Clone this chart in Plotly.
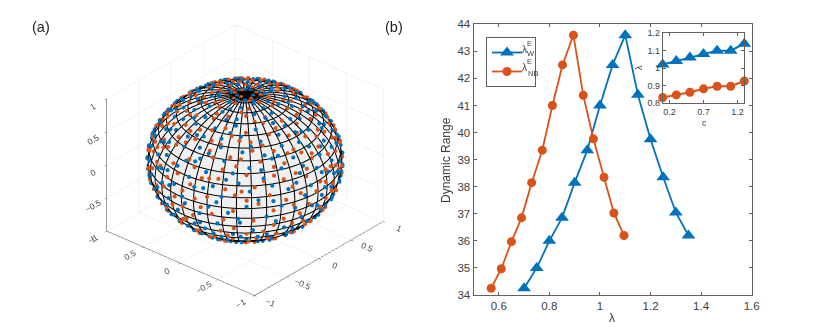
import numpy as np
import plotly.graph_objects as go

# the page body has an 8px margin, so px positions below are window positions minus 8
W, H = 822, 324
BLUE = "#0072BD"
ORANGE = "#D95319"
AXIS = "#606060"
TEXT = "#404040"


def fx(p):
    return (p - 8) / W


def fy(p):
    return 1 - (p - 8) / H


# main panel
wide_x = [0.70, 0.75, 0.80, 0.85, 0.90, 0.95, 1.00, 1.05, 1.10, 1.15, 1.20, 1.25, 1.30, 1.35]
wide_y = [34.25, 35.0, 36.0, 36.85, 38.15, 39.35, 41.0, 42.5, 43.6, 41.4, 39.75, 38.35, 37.05, 36.2]
narrow_x = [0.57, 0.61, 0.65, 0.69, 0.73, 0.772, 0.812, 0.852, 0.895, 0.934, 0.974, 1.016, 1.055, 1.095]
narrow_y = [34.25, 34.97, 35.97, 36.85, 38.15, 39.35, 41.0, 42.5, 43.6, 41.38, 39.77, 38.35, 37.03, 36.2]

# inset
c_vals = [0.1, 0.3, 0.5, 0.7, 0.9, 1.1, 1.3]
wide_c = [1.02, 1.04, 1.06, 1.08, 1.10, 1.10, 1.14]
narrow_c = [0.83, 0.845, 0.86, 0.88, 0.895, 0.895, 0.925]

# sphere mesh, degrees
mesh_lon = list(range(0, 361, 9))
mesh_lat = list(range(-90, 91, 9))
cap_lat = [84, 86, 88]

# dots on the sphere, (lon, lat) in degrees, estimated by eye from the visible side
blue_pts = [
    (192, -62), (214, -66), (236, -60), (251, -64), (205, -58), (173, -60), (268, -57), (226, -70), (183, -54), (245, -52),
    (158, -50), (171, -47), (196, -49), (218, -51), (232, -46), (259, -48), (278, -50), (290, -44), (149, -43), (207, -42),
    (186, -40), (163, -38), (241, -40), (270, -39), (298, -37), (222, -37), (143, -36), (252, -34), (177, -33), (283, -32),
    (136, -30), (155, -29), (199, -31), (213, -28), (236, -30), (266, -27), (305, -29), (128, -24), (146, -22), (168, -25),
    (187, -23), (226, -22), (247, -24), (277, -21), (294, -23), (312, -20), (121, -17), (138, -15), (159, -18), (176, -14),
    (204, -16), (218, -13), (258, -17), (270, -12), (288, -15), (303, -13), (318, -16), (126, -8), (143, -6), (152, -10),
    (169, -7), (193, -9), (211, -4), (234, -8), (252, -5), (265, -9), (283, -3), (297, -7), (311, -5), (322, -9),
    (119, -1), (131, 2), (148, 0), (163, 3), (181, 1), (199, -1), (222, 2), (243, 0), (259, 3), (276, 1),
    (292, 4), (306, 0), (316, 3), (328, 1), (115, 8), (127, 10), (141, 7), (156, 11), (174, 8), (189, 12),
    (207, 9), (229, 7), (248, 12), (264, 9), (281, 11), (299, 8), (313, 12), (326, 7), (333, 11), (108, 15),
    (122, 18), (136, 16), (151, 19), (166, 15), (184, 18), (201, 16), (217, 20), (238, 17), (254, 15), (272, 19),
    (288, 16), (304, 20), (319, 15), (335, 18), (102, 24), (117, 26), (133, 23), (146, 27), (160, 24), (178, 28),
    (195, 25), (213, 27), (233, 23), (246, 28), (262, 25), (279, 26), (295, 23), (311, 27), (327, 24), (341, 26),
    (96, 32), (111, 34), (126, 31), (141, 35), (155, 32), (171, 36), (188, 33), (206, 35), (224, 31), (241, 36),
    (257, 33), (274, 35), (291, 31), (307, 36), (322, 33), (338, 35), (350, 31), (88, 41), (104, 43), (120, 40),
    (135, 44), (152, 41), (168, 43), (184, 40), (201, 44), (219, 42), (236, 39), (252, 43), (268, 41), (285, 44),
    (302, 40), (318, 43), (333, 41), (349, 44), (2, 40), (76, 49), (93, 52), (112, 48), (129, 51), (147, 49),
    (165, 53), (182, 48), (199, 50), (217, 53), (235, 49), (254, 51), (271, 48), (289, 53), (308, 50), (326, 48),
    (343, 52), (358, 49), (14, 51), (60, 58), (82, 60), (101, 57), (123, 61), (144, 58), (167, 60), (188, 56),
    (210, 61), (233, 58), (256, 60), (279, 57), (302, 61), (324, 58), (347, 60), (8, 57), (31, 61), (45, 67),
    (72, 69), (98, 66), (126, 70), (153, 67), (181, 69), (209, 66), (237, 70), (265, 67), (293, 69), (321, 66),
    (349, 70), (17, 68), (58, 76), (96, 78), (134, 75), (172, 78), (210, 76), (248, 79), (286, 75), (324, 78),
    (2, 76), (30, 79), (78, 84), (150, 85), (222, 83), (294, 85), (10, 84),
    (133, -41), (125, -33), (117, -12), (112, -4), (109, 3), (103, 10), (97, 19), (90, 28), (82, 37), (70, 45),
    (330, -14), (323, -24), (315, -33), (305, -42), (294, -52), (279, -59), (337, -4), (341, 5), (346, 14), (350, 22),
    (357, 36), (9, 45), (22, 53), (165, -57), (150, -56), (262, -67), (205, -72), (243, -72),
    # second pass, between the rows above and heavier towards the rim
    (178, -65), (199, -69), (218, -74), (233, -65), (256, -70), (275, -62), (189, -51), (212, -55), (240, -56), (264, -52),
    (146, -53), (136, -46), (129, -38), (123, -29), (116, -21), (110, -10), (107, -2), (102, 6), (96, 14), (91, 22),
    (86, 31), (78, 41), (65, 52), (52, 60), (36, 72), (333, -25), (326, -36), (316, -45), (303, -55), (287, -60),
    (338, -11), (344, -2), (347, 8), (352, 17), (356, 26), (3, 33), (12, 41), (20, 48), (28, 56), (156, -34),
    (182, -37), (204, -35), (230, -33), (261, -42), (286, -38), (141, -27), (194, -26), (218, -32), (255, -30), (302, -24),
    (133, -12), (165, -16), (192, -19), (240, -14), (281, -19), (309, -12), (137, -3), (157, -5), (183, -4), (217, -9),
    (273, -4), (301, -2), (134, 5), (170, 5), (204, 4), (238, 5), (287, 6), (118, 13), (160, 13), (195, 13),
    (224, 14), (275, 14), (128, 21), (173, 22), (209, 22), (258, 21), (315, 20), (113, 29), (150, 29), (185, 30),
    (232, 29), (284, 30), (346, 29), (105, 37), (146, 38), (193, 38), (246, 37), (300, 37), (124, 45), (175, 47),
    (226, 46), (277, 46), (330, 46), (110, 54), (156, 55), (206, 55), (266, 55), (312, 54), (85, 64), (136, 64),
    (195, 64), (251, 65), (306, 64), (10, 63), (70, 73), (122, 74), (190, 73), (260, 73), (335, 73), (40, 84),
    (115, 82), (185, 82), (255, 81), (335, 81), (60, 50), (46, 56), (5, 52), (350, 54), (340, 38), (335, 29),
    (330, 13), (324, -3), (316, -25), (308, -35), (120, -7), (114, 15), (106, 25), (99, 35), (94, 45), (84, 54),
]
orange_pts = [
    (199, -64), (221, -62), (243, -66), (184, -61), (258, -60), (210, -70), (231, -56), (168, -54), (195, -55), (274, -54),
    (153, -47), (179, -46), (205, -48), (224, -44), (248, -47), (265, -44), (286, -48), (296, -41), (142, -40), (192, -43),
    (168, -36), (212, -37), (229, -35), (257, -38), (276, -35), (303, -33), (135, -33), (188, -32), (243, -31), (291, -29),
    (126, -27), (150, -26), (173, -28), (205, -25), (222, -27), (261, -23), (283, -26), (311, -27), (118, -20), (134, -18),
    (162, -21), (182, -19), (214, -20), (239, -18), (252, -21), (274, -16), (299, -18), (320, -22), (113, -11), (130, -12),
    (148, -13), (172, -11), (188, -13), (201, -7), (226, -11), (245, -13), (262, -6), (278, -10), (292, -12), (308, -9),
    (325, -12), (124, -3), (139, -1), (156, -4), (175, -2), (190, 3), (214, -2), (229, 4), (251, -2), (268, 2),
    (285, -1), (302, 2), (319, -2), (331, 3), (112, 5), (123, 6), (136, 12), (149, 6), (167, 10), (181, 6),
    (198, 7), (215, 11), (236, 10), (256, 6), (272, 8), (291, 10), (307, 6), (321, 10), (337, 8), (106, 13),
    (118, 14), (130, 20), (144, 17), (158, 14), (175, 17), (193, 20), (209, 15), (227, 17), (246, 20), (262, 17),
    (279, 14), (297, 18), (312, 15), (328, 19), (343, 16), (100, 21), (111, 22), (125, 27), (139, 22), (153, 26),
    (169, 22), (186, 26), (204, 22), (222, 26), (240, 24), (255, 22), (271, 27), (287, 22), (303, 26), (319, 22),
    (334, 27), (347, 23), (92, 30), (105, 29), (119, 36), (132, 32), (148, 30), (163, 34), (180, 30), (197, 36),
    (215, 32), (232, 35), (249, 31), (265, 34), (282, 31), (299, 34), (315, 31), (330, 36), (345, 33), (357, 29),
    (84, 38), (98, 39), (113, 41), (127, 38), (144, 42), (160, 39), (176, 44), (193, 40), (210, 38), (227, 43),
    (244, 41), (260, 38), (277, 42), (294, 39), (310, 44), (326, 39), (341, 43), (356, 41), (68, 47), (86, 46),
    (103, 50), (120, 47), (138, 53), (156, 48), (174, 51), (191, 47), (208, 53), (226, 49), (245, 53), (263, 48),
    (280, 52), (299, 47), (317, 52), (335, 49), (352, 53), (6, 47), (23, 50), (52, 56), (72, 59), (92, 62),
    (112, 58), (134, 62), (155, 57), (178, 62), (199, 58), (222, 56), (244, 62), (268, 59), (291, 56), (313, 62),
    (336, 57), (358, 62), (20, 58), (38, 64), (60, 68), (85, 66), (112, 69), (140, 66), (167, 71), (195, 67),
    (223, 69), (251, 66), (279, 71), (307, 67), (335, 69), (3, 66), (28, 70), (40, 77), (77, 75), (115, 78),
    (153, 75), (191, 79), (229, 75), (267, 78), (305, 76), (343, 79), (14, 74), (60, 85), (114, 84), (186, 86),
    (258, 84), (330, 83), (127, -47), (139, -51), (121, -38), (114, -26), (108, -14), (105, -6), (100, 5), (94, 14),
    (86, 24), (78, 33), (64, 40), (334, -20), (327, -30), (318, -38), (308, -47), (300, -57), (285, -62), (340, -8),
    (344, 1), (349, 11), (353, 19), (0, 27), (8, 36), (16, 43), (30, 48), (160, -62), (176, -67), (270, -65),
    # second pass, between the rows above and heavier towards the rim
    (188, -68), (206, -64), (228, -68), (249, -72), (266, -68), (284, -55), (176, -50), (201, -53), (222, -56), (252, -56),
    (143, -48), (132, -42), (124, -35), (118, -25), (111, -17), (104, -11), (101, -1), (97, 9), (92, 18), (87, 26),
    (80, 36), (72, 43), (58, 49), (44, 58), (30, 66), (336, -16), (329, -27), (320, -43), (311, -52), (296, -60),
    (342, -5), (346, 6), (350, 15), (354, 24), (359, 33), (6, 42), (14, 49), (26, 55), (160, -43), (184, -35),
    (198, -38), (238, -39), (268, -33), (293, -36), (152, -33), (178, -23), (209, -31), (233, -25), (270, -30), (298, -24),
    (142, -9), (158, -9), (181, -8), (208, -11), (238, -3), (256, -12), (284, -7), (314, -14), (129, 0), (144, 3),
    (165, 1), (194, -3), (222, 7), (246, 4), (277, 5), (295, 4), (324, 5), (131, 9), (153, 14), (186, 13),
    (219, 14), (251, 13), (285, 13), (116, 20), (146, 22), (198, 21), (233, 21), (264, 22), (308, 22), (338, 21),
    (125, 33), (157, 29), (206, 29), (241, 30), (273, 30), (324, 30), (108, 36), (137, 38), (170, 39), (218, 37),
    (254, 37), (287, 37), (336, 39), (96, 47), (130, 46), (166, 47), (200, 46), (236, 46), (272, 47), (326, 46),
    (124, 55), (148, 54), (186, 54), (216, 50), (255, 56), (303, 55), (344, 56), (75, 65), (124, 65), (176, 66),
    (234, 64), (292, 63), (350, 65), (52, 72), (102, 73), (150, 71), (214, 72), (294, 72), (15, 80), (90, 81),
    (165, 82), (240, 82), (310, 81), (48, 52), (38, 55), (2, 57), (354, 46), (342, 30), (338, 14), (333, -6),
    (322, -18), (312, -40), (115, -9), (110, 9), (103, 16), (95, 26), (90, 34), (74, 52), (60, 60), (46, 46),
]


def to_xyz(lon, lat, r=1.0):
    lo, la = np.radians(lon), np.radians(lat)
    return r * np.cos(la) * np.cos(lo), r * np.cos(la) * np.sin(lo), r * np.sin(la)


fig = go.Figure()

# radii stay just under 1, anything past the axis range gets clipped by the scene
lo, la = np.meshgrid(np.array(mesh_lon, float), np.array(mesh_lat, float))
sx, sy, sz = to_xyz(lo, la, 0.985)
fig.add_trace(go.Surface(x=sx, y=sy, z=sz, surfacecolor=np.zeros_like(sx), scene="scene",
                         colorscale=[[0, "#f0f0f0"], [1, "#f0f0f0"]], showscale=False, hoverinfo="skip",
                         lighting=dict(ambient=1, diffuse=0, specular=0, fresnel=0)))

# mesh lines
mx, my, mz = [], [], []
fine_lat = np.linspace(-90, 90, 61)
fine_lon = np.linspace(0, 360, 121)
for m in mesh_lon[:-1]:
    px_, py_, pz_ = to_xyz(np.full_like(fine_lat, m), fine_lat, 0.989)
    mx += list(px_) + [None]
    my += list(py_) + [None]
    mz += list(pz_) + [None]
for p in mesh_lat[1:-1] + cap_lat:
    px_, py_, pz_ = to_xyz(fine_lon, np.full_like(fine_lon, p), 0.989)
    mx += list(px_) + [None]
    my += list(py_) + [None]
    mz += list(pz_) + [None]
fig.add_trace(go.Scatter3d(x=mx, y=my, z=mz, mode="lines", line=dict(color="black", width=2),
                           hoverinfo="skip", showlegend=False, scene="scene"))

for pts, col in [(blue_pts, BLUE), (orange_pts, ORANGE)]:
    lons, lats = zip(*pts)
    dx, dy, dz = to_xyz(np.array(lons, float), np.array(lats, float), 0.998)
    fig.add_trace(go.Scatter3d(x=dx, y=dy, z=dz, mode="markers", marker=dict(color=col, size=2.4, line=dict(width=0)),
                               hoverinfo="skip", showlegend=False, scene="scene"))

# line panel
fig.add_trace(go.Scatter(x=wide_x, y=wide_y, mode="lines+markers", name=" ", xaxis="x", yaxis="y",
                         line=dict(color=BLUE, width=1.8), marker=dict(symbol="triangle-up", size=12, color=BLUE)))
fig.add_trace(go.Scatter(x=narrow_x, y=narrow_y, mode="lines+markers", name=" ", xaxis="x", yaxis="y",
                         line=dict(color=ORANGE, width=1.8), marker=dict(symbol="circle", size=9, color=ORANGE)))
fig.add_trace(go.Scatter(x=c_vals, y=wide_c, mode="lines+markers", showlegend=False, xaxis="x2", yaxis="y2",
                         cliponaxis=False, line=dict(color=BLUE, width=2), marker=dict(symbol="triangle-up", size=12, color=BLUE)))
fig.add_trace(go.Scatter(x=c_vals, y=narrow_c, mode="lines+markers", showlegend=False, xaxis="x2", yaxis="y2",
                         cliponaxis=False, line=dict(color=ORANGE, width=2), marker=dict(symbol="circle", size=9, color=ORANGE)))

axis_style = dict(showgrid=False, zeroline=False, showline=True, linecolor=AXIS, linewidth=1, mirror="ticks",
                  ticks="inside", tickcolor=AXIS, ticklen=3, tickwidth=1, automargin=False)
scene_axis = dict(range=[-1, 1], dtick=0.5, showbackground=False, gridcolor="#e8e8e8", gridwidth=1, showline=True,
                  linecolor=AXIS, linewidth=1.5, ticks="outside", ticklen=3, tickcolor=AXIS, zeroline=False,
                  title=dict(text=""), tickfont=dict(size=10, color="#444444"), showspikes=False)
eye_len = 2.0
k = 1.21
cz = -0.07


def label(text, x, y, size, color=TEXT, angle=0):
    return dict(text=text, x=fx(x), y=fy(y), xref="paper", yref="paper", showarrow=False, xanchor="center",
                yanchor="middle", textangle=angle, font=dict(size=size, color=color))


fig.update_layout(
    width=W, height=H, margin=dict(l=0, r=0, t=0, b=0), paper_bgcolor="white", plot_bgcolor="white",
    font=dict(family="Liberation Sans", color=TEXT),
    scene=dict(domain=dict(x=[fx(45), fx(445)], y=[0, 1]), xaxis=scene_axis, yaxis=scene_axis, zaxis=scene_axis,
               aspectmode="manual", aspectratio=dict(x=k, y=k, z=0.78 * k),
               camera=dict(projection=dict(type="orthographic"), center=dict(x=0, y=0, z=cz),
                           eye=dict(x=-0.653 * eye_len, y=-0.569 * eye_len, z=0.5 * eye_len + cz))),
    xaxis=dict(domain=[fx(473.5), fx(751.7)], range=[0.5, 1.6], tickvals=[0.6, 0.8, 1, 1.2, 1.4, 1.6],
               ticktext=["0.6", "0.8", "1", "1.2", "1.4", "1.6"], tickfont=dict(size=11.5), anchor="y", **axis_style),
    yaxis=dict(domain=[fy(295), fy(24.3)], range=[34, 44], dtick=1, tickfont=dict(size=11.5), anchor="x", **axis_style),
    xaxis2=dict(domain=[fx(662.7), fx(744.3)], range=[0.1, 1.3], tickvals=[0.2, 0.7, 1.2], tickfont=dict(size=9),
                anchor="y2", **axis_style),
    yaxis2=dict(domain=[fy(102.7), fy(33.3)], range=[0.8, 1.2], tickvals=[0.8, 0.9, 1, 1.1, 1.2],
                ticktext=["0.8", "0.9", "1", "1.1", "1.2"], tickfont=dict(size=9), anchor="x2", **axis_style),
    legend=dict(x=fx(486), y=fy(37), xanchor="left", yanchor="top", bordercolor=AXIS, borderwidth=1,
                bgcolor="white", font=dict(size=9.5), itemwidth=30, entrywidth=12, entrywidthmode="pixels"),
    annotations=[
        label("(a)", 41, 27, 14.5, "#222222"),
        label("(b)", 394, 27, 14.5, "#222222"),
        label("λ", 612, 318, 12),
        label("Dynamic Range", 446, 160, 12, angle=-90),
        label("c", 704, 123, 9),
        label("λ", 639, 68, 9, angle=-90),
        label("λ", 524, 49, 10),
        label("E", 529, 43, 7.5),
        label("W", 531, 54, 7.5),
        label("λ", 524, 68, 10),
        label("E", 529, 62, 7.5),
        label("NB", 532.5, 73, 7.5),
    ],
)

fig.write_html("out.html")
